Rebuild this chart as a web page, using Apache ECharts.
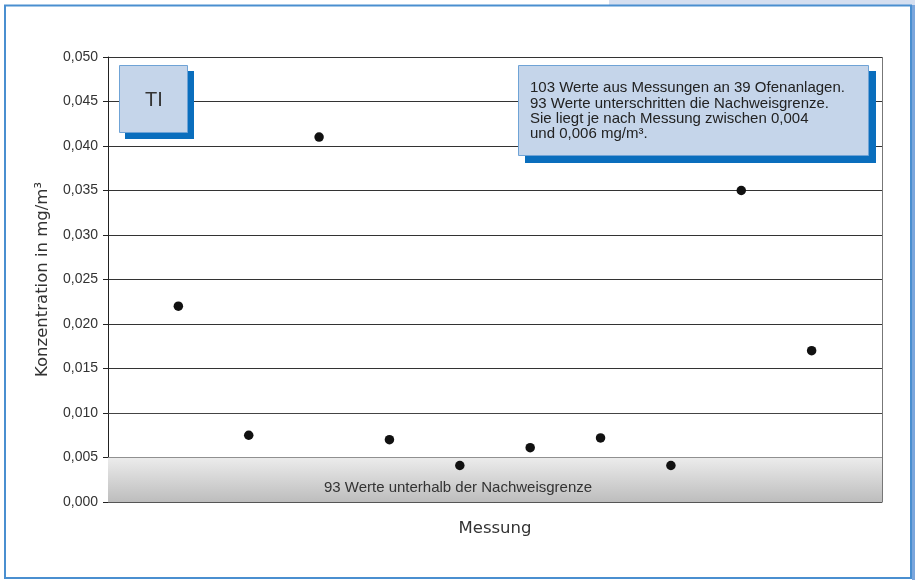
<!DOCTYPE html>
<html>
<head>
<meta charset="utf-8">
<script src="https://cdn.jsdelivr.net/npm/echarts@6/dist/echarts.min.js"></script>
<style>html,body{margin:0;padding:0;background:#fff}#c{width:915px;height:580px}</style>
</head>
<body>
<div id="c"></div>
<script>
const measurements = [1, 2, 3, 4, 5, 6, 7, 8, 9, 10];
const concentrations = [0.022, 0.0075, 0.041, 0.007, 0.0041, 0.0061, 0.0072, 0.0041, 0.035, 0.017];
const yTicks = ['0,000','0,005','0,010','0,015','0,020','0,025','0,030','0,035','0,040','0,045','0,050'];
const detectionLimit = 0.005;
const bandLabel = '93 Werte unterhalb der Nachweisgrenze';
const noteLines = ['103 Werte aus Messungen an 39 Ofenanlagen.', '93 Werte unterschritten die Nachweisgrenze.', 'Sie liegt je nach Messung zwischen 0,004', 'und 0,006 mg/m³.'];

const FONT = 'Liberation Sans, Arial, sans-serif';
const WIDE = 'DejaVu Sans, sans-serif';
const chart = echarts.init(document.getElementById('c'), null, {renderer: 'canvas'});
chart.setOption({
  backgroundColor: '#ffffff',
  animation: false,
  grid: {left: 108, right: 33, top: 57, bottom: 78},
  xAxis: {
    type: 'value', min: 0, max: 11, interval: 11,
    name: 'Messung', nameLocation: 'middle', nameGap: 18,
    nameTextStyle: {fontFamily: WIDE, fontSize: 16.5, color: '#333'},
    axisLine: {show: true, lineStyle: {color: '#555', width: 1}},
    axisTick: {show: false}, axisLabel: {show: false},
    splitLine: {show: true, lineStyle: {color: '#777', width: 1}}
  },
  yAxis: {
    type: 'value', min: 0, max: 0.05, interval: 0.005,
    name: 'Konzentration in mg/m³', nameLocation: 'middle', nameGap: 57,
    nameTextStyle: {fontFamily: WIDE, fontSize: 16.5, color: '#333'},
    axisLine: {show: true, lineStyle: {color: '#222', width: 1}},
    axisTick: {show: true, length: 5, lineStyle: {color: '#222'}},
    axisLabel: {fontFamily: FONT, fontSize: 14, color: '#333', margin: 10,
      formatter: (v) => yTicks[Math.round(v / 0.005)]},
    splitLine: {show: true, lineStyle: {color: '#333', width: 1}}
  },
  series: [{
    type: 'scatter',
    data: measurements.map((m, i) => [m, concentrations[i]]),
    symbol: 'circle', symbolSize: 9.5,
    itemStyle: {color: '#111', opacity: 1},
    z: 5,
    markArea: {
      silent: true,
      itemStyle: {
        color: new echarts.graphic.LinearGradient(0, 0, 0, 1, [
          {offset: 0, color: '#ececec'}, {offset: 1, color: '#bdbdbd'}
        ])
      },
      label: {show: true, position: 'insideBottom', distance: 7, offset: [-37, 0],
        fontFamily: FONT, fontSize: 15, color: '#333', formatter: bandLabel},
      data: [[{yAxis: 0, xAxis: 0}, {yAxis: detectionLimit, xAxis: 11}]]
    },
    markLine: {
      silent: true, symbol: 'none', label: {show: false},
      lineStyle: {color: '#444', width: 1, type: 'solid'},
      data: [{yAxis: detectionLimit}]
    }
  }],
  graphic: [
    {type: 'rect', shape: {x: 609, y: 0, width: 306, height: 5}, style: {fill: '#d5dff0'}, z: 1},
    {type: 'rect', shape: {x: 912, y: 5, width: 3, height: 575}, style: {fill: '#7ba6dc'}, z: 1},
    {type: 'rect', shape: {x: 5, y: 5.5, width: 906, height: 572.5}, style: {fill: 'none', stroke: '#4a8fd0', lineWidth: 2}, z: 1},
    {type: 'rect', shape: {x: 125, y: 71, width: 69, height: 68}, style: {fill: '#0a6ebd'}, z: 10},
    {type: 'rect', shape: {x: 119.5, y: 65.5, width: 68, height: 67}, style: {fill: '#c5d5ea', stroke: '#6fa3d6', lineWidth: 1}, z: 11},
    {type: 'text', x: 154, y: 100, style: {text: 'TI', fontFamily: FONT, fontSize: 20, fill: '#333', align: 'center', verticalAlign: 'middle'}, z: 12},
    {type: 'rect', shape: {x: 525, y: 71, width: 351, height: 92}, style: {fill: '#0a6ebd'}, z: 10},
    {type: 'rect', shape: {x: 518.5, y: 65.5, width: 350, height: 90}, style: {fill: '#c5d5ea', stroke: '#6fa3d6', lineWidth: 1}, z: 11},
    {type: 'text', x: 530, y: 80.5, style: {text: noteLines.join('\n'), fontFamily: FONT, fontSize: 15, lineHeight: 15.3, fill: '#222', align: 'left', verticalAlign: 'top'}, z: 12}
  ]
});
</script>
</body>
</html>
